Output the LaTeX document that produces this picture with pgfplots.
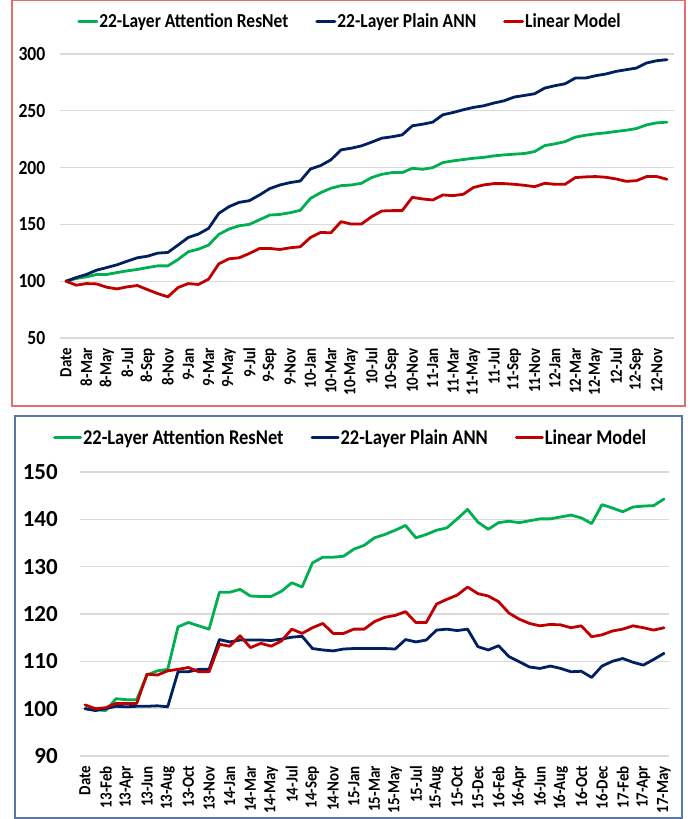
\documentclass[border=0pt]{standalone}
\usepackage{fontspec}
\setmainfont{Carlito}
\newfontfamily\condfont{Carlito}[FakeStretch=0.88]
\usepackage{pgfplots}
\pgfplotsset{compat=1.18}
\usepackage{pgfplotstable}
\definecolor{cgreen}{RGB}{0,176,80}
\definecolor{cblue}{RGB}{0,32,96}
\definecolor{cred}{RGB}{192,0,0}
\definecolor{gridc}{RGB}{217,217,217}
\definecolor{bred}{RGB}{228,110,110}
\definecolor{bblue}{RGB}{90,118,168}

\pgfplotstableread{
i green blue red
0 100 100 100
1 102.4 103.2 96.5
2 103.8 105.9 97.9
3 105.9 109.7 97.6
4 105.9 112 94.7
5 107.6 114.4 93.2
6 109.1 117.6 95
7 110.3 120.6 96.2
8 112 122 92.6
9 113.5 124.7 89.1
10 113.5 125.3 86.2
11 119.1 131.8 94.4
12 125.9 138.5 97.9
13 128.2 141.5 97.1
14 131.8 146.5 101.8
15 141.2 159.7 115.3
16 145.9 165.6 119.7
17 148.8 169.4 120.6
18 150 170.9 124.4
19 154.1 175.9 128.8
20 158.2 181.5 128.8
21 158.8 184.7 127.9
22 160.3 186.8 129.4
23 162.4 188.2 130.3
24 172.9 198.8 138.5
25 177.9 201.8 142.9
26 181.8 206.8 142.6
27 184.1 215.6 152.4
28 184.7 217.1 150.3
29 186.2 219.1 150.3
30 191.2 222.4 156.8
31 194.1 225.9 161.8
32 195.6 227.1 162.1
33 195.6 228.8 162.1
34 199.4 236.8 173.8
35 198.5 238.2 172.4
36 200 240 171.5
37 204.4 246.5 175.9
38 205.9 248.5 175.3
39 207.1 250.9 176.5
40 208.2 253 182.5
41 209 254.4 184.7
42 210.3 256.8 185.9
43 211.2 258.8 185.9
44 211.8 262.1 185.3
45 212.4 263.5 184.4
46 214.1 265 183.2
47 219.4 270 186.2
48 220.9 272.1 185.3
49 222.9 273.8 185.3
50 226.8 278.8 191.2
51 228.5 278.8 191.8
52 229.7 280.9 192.1
53 230.6 282.4 191.5
54 231.8 284.7 190
55 232.9 286.2 187.9
56 234.4 287.6 188.5
57 237.6 292.1 192.1
58 239.4 294.1 192.1
59 240 295 189.7
}\topdata

\pgfplotstableread{
i green blue red
0 100 100 100.8
1 99.8 99.6 100
2 99.6 100 100.2
3 102.1 100.5 101.1
4 101.9 100.4 101.1
5 101.9 100.5 101.1
6 107.1 100.5 107.3
7 108 100.6 107.1
8 108.3 100.4 108
9 117.3 107.8 108.3
10 118.2 107.8 108.7
11 117.5 108.3 107.8
12 116.8 108.3 107.8
13 124.6 114.6 113.6
14 124.6 114.1 113.2
15 125.2 114.5 115.4
16 123.8 114.5 112.9
17 123.7 114.5 113.8
18 123.7 114.4 113.2
19 124.8 114.7 114.3
20 126.6 115.1 116.8
21 125.7 115.3 115.9
22 130.8 112.7 117.1
23 132 112.4 118
24 132 112.2 115.9
25 132.2 112.6 115.9
26 133.7 112.7 116.8
27 134.5 112.7 116.8
28 136.1 112.7 118.4
29 136.8 112.7 119.3
30 137.7 112.6 119.7
31 138.7 114.6 120.5
32 136.1 114.1 118.2
33 136.8 114.5 118.2
34 137.7 116.6 122.1
35 138.2 116.8 123.1
36 140.1 116.5 124
37 142.1 116.8 125.7
38 139.4 113.1 124.3
39 137.9 112.4 123.8
40 139.3 113.3 122.6
41 139.6 111 120.2
42 139.3 109.9 118.9
43 139.7 108.8 118
44 140.1 108.5 117.5
45 140.1 109 117.8
46 140.5 108.5 117.7
47 140.9 107.8 117.1
48 140.3 107.9 117.5
49 139.1 106.6 115.2
50 143.1 109 115.6
51 142.4 110 116.4
52 141.6 110.6 116.8
53 142.6 109.8 117.5
54 142.8 109.2 117.1
55 142.9 110.4 116.6
56 144.3 111.7 117.1
}\botdata

\pgfplotsset{
  panel/.style={
    scale only axis, clip=false,
    axis line style={draw=none},
    ymajorgrids, grid style={gridc, line width=1.3pt},
    major tick length=0pt,
    /pgf/number format/assume math mode=true,
    xticklabel style={rotate=90, anchor=east, inner sep=0pt, font=\condfont\fontsize{17}{18}\selectfont\bfseries},
    xticklabel shift=10pt,
    yticklabel style={anchor=east, inner sep=0pt},
    legend columns=3,
    legend style={draw=none, fill=none, inner sep=0pt,
      nodes={inner sep=1pt, anchor=west},
      /tikz/every even column/.append style={column sep=26pt}},
    every axis plot/.append style={line width=2.8pt, line join=round, line cap=round, no markers},
  }
}

\begin{document}
\begin{tikzpicture}[x=1pt,y=1pt]
\useasboundingbox (0,0) rectangle (692,819);
\draw[bred, line width=1.5pt] (12,413) rectangle (685,818.5);
\draw[bblue, line width=1.5pt] (15,1) rectangle (682,403);

\begin{axis}[panel,
  at={(60pt,481pt)}, anchor=south west,
  width=614pt, height=284pt,
  xmin=-0.59, xmax=59.69, ymin=50, ymax=300,
  ytick={50,100,...,300},
  yticklabel shift=14.5pt,
  yticklabel style={font=\condfont\fontsize{20}{22}\selectfont\bfseries},
  xtick={0,2,...,58},
  xticklabels={Date,8-Mar,8-May,8-Jul,8-Sep,8-Nov,9-Jan,9-Mar,9-May,9-Jul,9-Sep,9-Nov,10-Jan,10-Mar,10-May,10-Jul,10-Sep,10-Nov,11-Jan,11-Mar,11-May,11-Jul,11-Sep,11-Nov,12-Jan,12-Mar,12-May,12-Jul,12-Sep,12-Nov},
  legend style={at={(0.4715,1.116)}, anchor=center, font=\condfont\fontsize{19.8}{22}\selectfont\bfseries},
  legend image code/.code={\draw[line width=3pt] (0pt,0pt) -- (18pt,0pt);},
]
\addplot[cgreen] table[x=i, y=green] {\topdata};
\addplot[cblue] table[x=i, y=blue] {\topdata};
\addplot[cred] table[x=i, y=red] {\topdata};
\legend{22-Layer Attention ResNet, 22-Layer Plain ANN, Linear Model}
\end{axis}

\begin{axis}[panel,
  at={(79.5pt,63pt)}, anchor=south west,
  width=589.5pt, height=284pt,
  xmin=-0.53, xmax=56.48, ymin=90, ymax=150,
  ytick={90,100,...,150},
  yticklabel shift=21.5pt,
  yticklabel style={font=\fontsize{23}{25}\selectfont\bfseries},
  xtick={0,2,...,56},
  xticklabels={Date,13-Feb,13-Apr,13-Jun,13-Aug,13-Oct,13-Nov,14-Jan,14-Mar,14-May,14-Jul,14-Sep,14-Nov,15-Jan,15-Mar,15-May,15-Jul,15-Aug,15-Oct,15-Dec,16-Feb,16-Apr,16-Jun,16-Aug,16-Oct,16-Dec,17-Feb,17-Apr,17-May},
  legend style={at={(0.459,1.12)}, anchor=center, font=\condfont\fontsize{21}{23}\selectfont\bfseries},
  legend image code/.code={\draw[line width=3pt] (0pt,0pt) -- (26pt,0pt);},
]
\addplot[cgreen] table[x=i, y=green] {\botdata};
\addplot[cblue] table[x=i, y=blue] {\botdata};
\addplot[cred] table[x=i, y=red] {\botdata};
\legend{22-Layer Attention ResNet, 22-Layer Plain ANN, Linear Model}
\end{axis}
\end{tikzpicture}
\end{document}
